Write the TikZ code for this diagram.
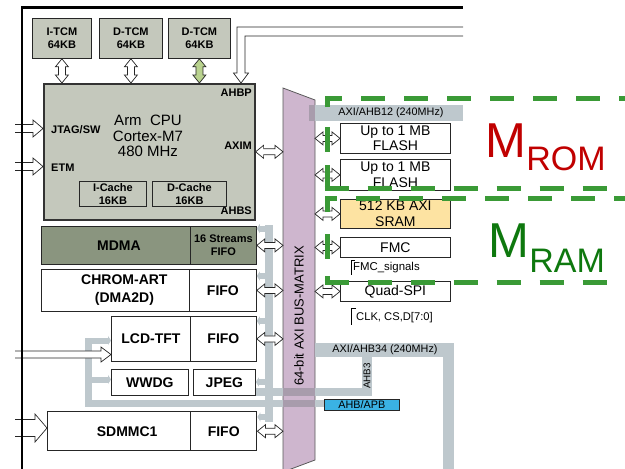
\documentclass[tikz,border=0pt]{standalone}
\usepackage{fontspec}
\setmainfont{Liberation Sans}
\usetikzlibrary{arrows.meta,calc}
\definecolor{tcm}{HTML}{C4C8BC}
\definecolor{mdmac}{HTML}{8A957F}
\definecolor{sramc}{HTML}{FDE3A2}
\definecolor{mtx}{HTML}{CEB6CE}
\definecolor{bus}{HTML}{BEC8CD}
\definecolor{busdk}{HTML}{A89CAC}
\definecolor{apb}{HTML}{3AB2E4}
\definecolor{dgreen}{HTML}{3A9A36}
\definecolor{romred}{HTML}{C00000}
\definecolor{ramgreen}{HTML}{0E780E}
\definecolor{tcmgreen}{HTML}{B9D28E}
\newcommand{\hdbl}[2]{\path[hollow] let \p1=(#1), \p2=(#2) in
  (\x1,\y1) -- (\x1+8pt,\y1+6.5pt) -- (\x1+8pt,\y1+3pt) -- (\x2-8pt,\y1+3pt) -- (\x2-8pt,\y1+6.5pt) -- (\x2,\y1)
  -- (\x2-8pt,\y1-6.5pt) -- (\x2-8pt,\y1-3pt) -- (\x1+8pt,\y1-3pt) -- (\x1+8pt,\y1-6.5pt) -- cycle;}
\newcommand{\vdbl}[3][white]{\path[hollow, fill=#1] let \p1=(#2), \p2=(#3) in
  (\x1,\y1) -- (\x1+6.5pt,\y1-8pt) -- (\x1+3.5pt,\y1-8pt) -- (\x1+3.5pt,\y2+8pt) -- (\x1+6.5pt,\y2+8pt) -- (\x1,\y2)
  -- (\x1-6.5pt,\y2+8pt) -- (\x1-3.5pt,\y2+8pt) -- (\x1-3.5pt,\y1-8pt) -- (\x1-6.5pt,\y1-8pt) -- cycle;}
\newcommand{\inarr}[5]{\path[hollow] let \p1=(#1), \p2=(#2) in
  (\x1,\y1+#3pt) -- (\x2-#5pt,\y1+#3pt) -- (\x2-#5pt,\y1+#4pt) -- (\x2,\y1) -- (\x2-#5pt,\y1-#4pt) -- (\x2-#5pt,\y1-#3pt) -- (\x1,\y1-#3pt);}
\begin{document}
\begin{tikzpicture}[x=1pt,y=-1pt,
  box/.style={draw=black!85, line width=0.8pt, inner sep=0pt, anchor=north west, align=center},
  txt/.style={inner sep=0pt, align=center},
  sm/.style={font=\fontsize{11}{12.5}\selectfont\bfseries},
  pf/.style={font=\fontsize{14}{18}\selectfont\bfseries},
  mf/.style={font=\fontsize{14}{15.5}\selectfont},
  bf/.style={font=\fontsize{10.8}{12}\selectfont},
  hollow/.style={draw=black!85, fill=white, line width=0.7pt, line join=miter},
  stub/.style={draw=bus, line width=6pt, -{Triangle[length=3pt,width=9pt]}},
  gd/.style={draw=dgreen, line width=5pt, dash pattern=on 24pt off 19pt}]
\useasboundingbox (0,0) rectangle (625,469);
\coordinate (mxL) at (283,0);
\coordinate (mxR) at (315,0);
% bus matrix
\draw[fill=mtx, draw=black!65, line width=0.8pt] (283,88) -- (315,100) -- (315,460) -- (283,472) -- cycle;
\node[txt, rotate=90, font=\fontsize{13}{13}\selectfont] at (299,316) {64-bit AXI BUS-MATRIX};
% grey buses
\fill[bus] (309,105) rectangle (463,121);
\fill[busdk] (309,105) rectangle (315,121);
\node[txt, bf] at (391,113) {AXI/AHB12 (240MHz)};
\fill[bus] (315,343) rectangle (454,357);
\fill[bus] (443,343) rectangle (454,470);
\node[txt, bf] at (385,350) {AXI/AHB34 (240MHz)};
\fill[bus] (362,357) rectangle (372,396);
\node[txt, rotate=90, font=\fontsize{9.8}{10}\selectfont] at (367,376) {AHB3};
\fill[bus] (255,388) rectangle (372,396);
\fill[busdk] (283,388) rectangle (315,396);
\fill[bus] (85,400) rectangle (324,407);
\fill[busdk] (283,400) rectangle (315,407);
\fill[bus] (85,338) rectangle (92,407);
\fill[bus] (265,225) rectangle (273,422);
% TCMs
\node[box, fill=tcm, minimum width=59pt, minimum height=40pt, sm] (itcm) at (32,18) {I-TCM\\64KB};
\node[box, fill=tcm, minimum width=63pt, minimum height=40pt, sm] (dtcma) at (99,18) {D-TCM\\64KB};
\node[box, fill=tcm, minimum width=62pt, minimum height=40pt, sm] (dtcmb) at (168,18) {D-TCM\\64KB};
% CPU
\node[box, fill=tcm, draw=black!80, line width=1.6pt, minimum width=211pt, minimum height=136pt] (cpu) at (43,83) {};
\node[txt, font=\fontsize{15}{15.5}\selectfont] at (148,136) {Arm\ \ CPU\\Cortex-M7\\480 MHz};
\node[txt, sm, anchor=west] at (51,130) {JTAG/SW};
\node[txt, sm, anchor=west] at (51,168) {ETM};
\node[txt, sm, anchor=east] at (252,93) {AHBP};
\node[txt, sm, anchor=east] at (252,146) {AXIM};
\node[txt, sm, anchor=east] at (252,211) {AHBS};
\node[box, minimum width=67pt, minimum height=25pt, sm] (icache) at (79,181) {I-Cache\\16KB};
\node[box, minimum width=74pt, minimum height=25pt, sm] (dcache) at (152,181) {D-Cache\\16KB};
% peripherals
\node[box, fill=mdmac, minimum width=149pt, minimum height=38pt] (mdma) at (41,226) {};
\node[txt, pf] at ([xshift=3pt]mdma.center) {MDMA};
\node[box, fill=mdmac, minimum width=66pt, minimum height=38pt, sm] (mdmaf) at (190,226) {16 Streams\\FIFO};
\node[box, fill=white, minimum width=148pt, minimum height=42pt] (chrom) at (41,269) {};
\node[txt, pf] at ([xshift=9pt]chrom.center) {CHROM-ART\\(DMA2D)};
\node[box, fill=white, minimum width=67pt, minimum height=42pt, pf] (chromf) at (189,269) {FIFO};
\node[box, fill=white, minimum width=79pt, minimum height=45pt, pf] (lcd) at (111,316) {LCD-TFT};
\node[box, fill=white, minimum width=66pt, minimum height=45pt, pf] (lcdf) at (190,316) {FIFO};
\node[box, fill=white, minimum width=77pt, minimum height=26pt, pf] (wwdg) at (111,369) {WWDG};
\node[box, fill=white, minimum width=62pt, minimum height=26pt, pf] (jpeg) at (193,369) {JPEG};
\node[box, fill=white, line width=1.4pt, minimum width=143pt, minimum height=39pt] (sdmmc) at (47,411) {};
\node[txt, pf] at ([xshift=8pt]sdmmc.center) {SDMMC1};
\node[box, fill=white, line width=1.4pt, minimum width=66pt, minimum height=39pt, pf] (sdmmcf) at (190,411) {FIFO};
% grey stubs
\draw[stub] (92,340.5) -- (lcd.west |- 0,340.5);
\draw[stub] (92,379.5) -- (wwdg.west |- 0,379.5);
\draw[stub] (268,228.5) -- (mdmaf.east |- 0,228.5);
\draw[stub] (268,276) -- (chromf.east |- 0,276);
\draw[stub] (268,321) -- (lcdf.east |- 0,321);
\draw[stub] (268,382) -- (jpeg.east |- 0,382);
\draw[stub] (268,417) -- (sdmmcf.east |- 0,417);
% AHB/APB
\node[box, fill=apb, minimum width=75pt, minimum height=11pt, font=\fontsize{10.8}{11}\selectfont] (apbbox) at (324,399) {AHB/APB};
% memories
\node[box, fill=white, minimum width=110pt, minimum height=30pt, mf] (fla) at (340,123) {Up to 1 MB\\FLASH};
\node[box, fill=white, minimum width=110pt, minimum height=31pt, mf] (flb) at (340,159) {Up to 1 MB\\FLASH};
\node[box, fill=sramc, minimum width=110pt, minimum height=29pt, mf] (sram) at (340,199) {512 KB AXI\\SRAM};
\node[box, fill=white, minimum width=110pt, minimum height=20pt, mf] (fmc) at (340,237) {FMC};
\node[box, fill=white, minimum width=110pt, minimum height=20pt, mf] (qspi) at (340,281) {Quad-SPI};
\draw[line width=0.6pt] (355,260) -- (351,260) -- (351,275);
\node[txt, anchor=west, font=\fontsize{11.4}{12}\selectfont] (fmcsig) at (353,268) {FMC\_signals};
\draw[line width=0.6pt] (356,308) -- (351,308) -- (351,325);
\node[txt, anchor=west, font=\fontsize{11.2}{12}\selectfont] (qsig) at (356,318) {CLK, CS,D[7:0]};
% double arrows
\vdbl{itcm.south}{itcm.south |- cpu.north}
\vdbl{dtcma.south}{dtcma.south |- cpu.north}
\vdbl[tcmgreen]{dtcmb.south}{dtcmb.south |- cpu.north}
\hdbl{cpu.east}{cpu.east -| mxL}
\hdbl{mdmaf.east}{mdmaf.east -| mxL}
\hdbl{chromf.east}{chromf.east -| mxL}
\hdbl{lcdf.east}{lcdf.east -| mxL}
\hdbl{sdmmcf.east}{sdmmcf.east -| mxL}
\hdbl{mxR |- fla.west}{fla.west}
\hdbl{mxR |- flb.west}{flb.west}
\hdbl{mxR |- sram.west}{sram.west}
\hdbl{mxR |- fmc.west}{fmc.west}
\hdbl{mxR |- qspi.west}{qspi.west}
% input arrows
\coordinate (jtagin) at (15,128.5);
\coordinate (etmin) at (15,166.5);
\coordinate (lcdin) at (15,354.5);
\coordinate (sdin) at (15,428);
\inarr{jtagin}{cpu.west |- jtagin}{4}{8.5}{10}
\inarr{etmin}{cpu.west |- etmin}{4}{8.5}{10}
\inarr{lcdin}{lcd.west |- lcdin}{3.5}{7.5}{10}
\inarr{sdin}{sdmmc.west |- sdin}{8.5}{14}{12}
% AHBP bent arrow
\coordinate (ahbpin) at (463,31.5);
\coordinate (ahbptip) at (241,83);
\path[hollow] let \p1=(ahbpin), \p2=(ahbptip) in
  (\x1,\y1+4.5pt) -- (\x2-4pt,\y1+4.5pt) -- (\x2-4pt,\y2+10pt) -- (\x2-7.5pt,\y2+10pt) -- (\x2,\y2)
  -- (\x2+7.5pt,\y2+10pt) -- (\x2+4pt,\y2+10pt) -- (\x2+4pt,\y1-4.5pt) -- (\x1,\y1-4.5pt);
% frame
\draw[line width=2.5pt] (22,470) -- (22,7.5) -- (463,7.5);
% green dashed regions
\draw[gd] (327,107) -- (327,98) -- (640,98);
\draw[draw=dgreen, line width=5pt] (327,127) -- (327,152) (327,165) -- (327,188);
\draw[gd] (324.5,188) -- (640,188);
\draw[gd] (327,212) -- (327,198) -- (640,198);
\draw[draw=dgreen, line width=5pt] (327,234) -- (327,259) (327,276) -- (327,282);
\draw[gd] (324.5,282) -- (640,282);
% labels
\node[txt, romred, anchor=base west, font=\fontsize{49}{49}\selectfont] (mrom) at (485,157) {M};
\node[txt, romred, anchor=base west, font=\fontsize{34}{34}\selectfont] at ([yshift=-13pt]mrom.base east) {ROM};
\node[txt, ramgreen, anchor=base west, font=\fontsize{49}{49}\selectfont] (mram) at (488,257) {M};
\node[txt, ramgreen, anchor=base west, font=\fontsize{34}{34}\selectfont] at ([yshift=-15pt]mram.base east) {RAM};
\end{tikzpicture}
\end{document}
